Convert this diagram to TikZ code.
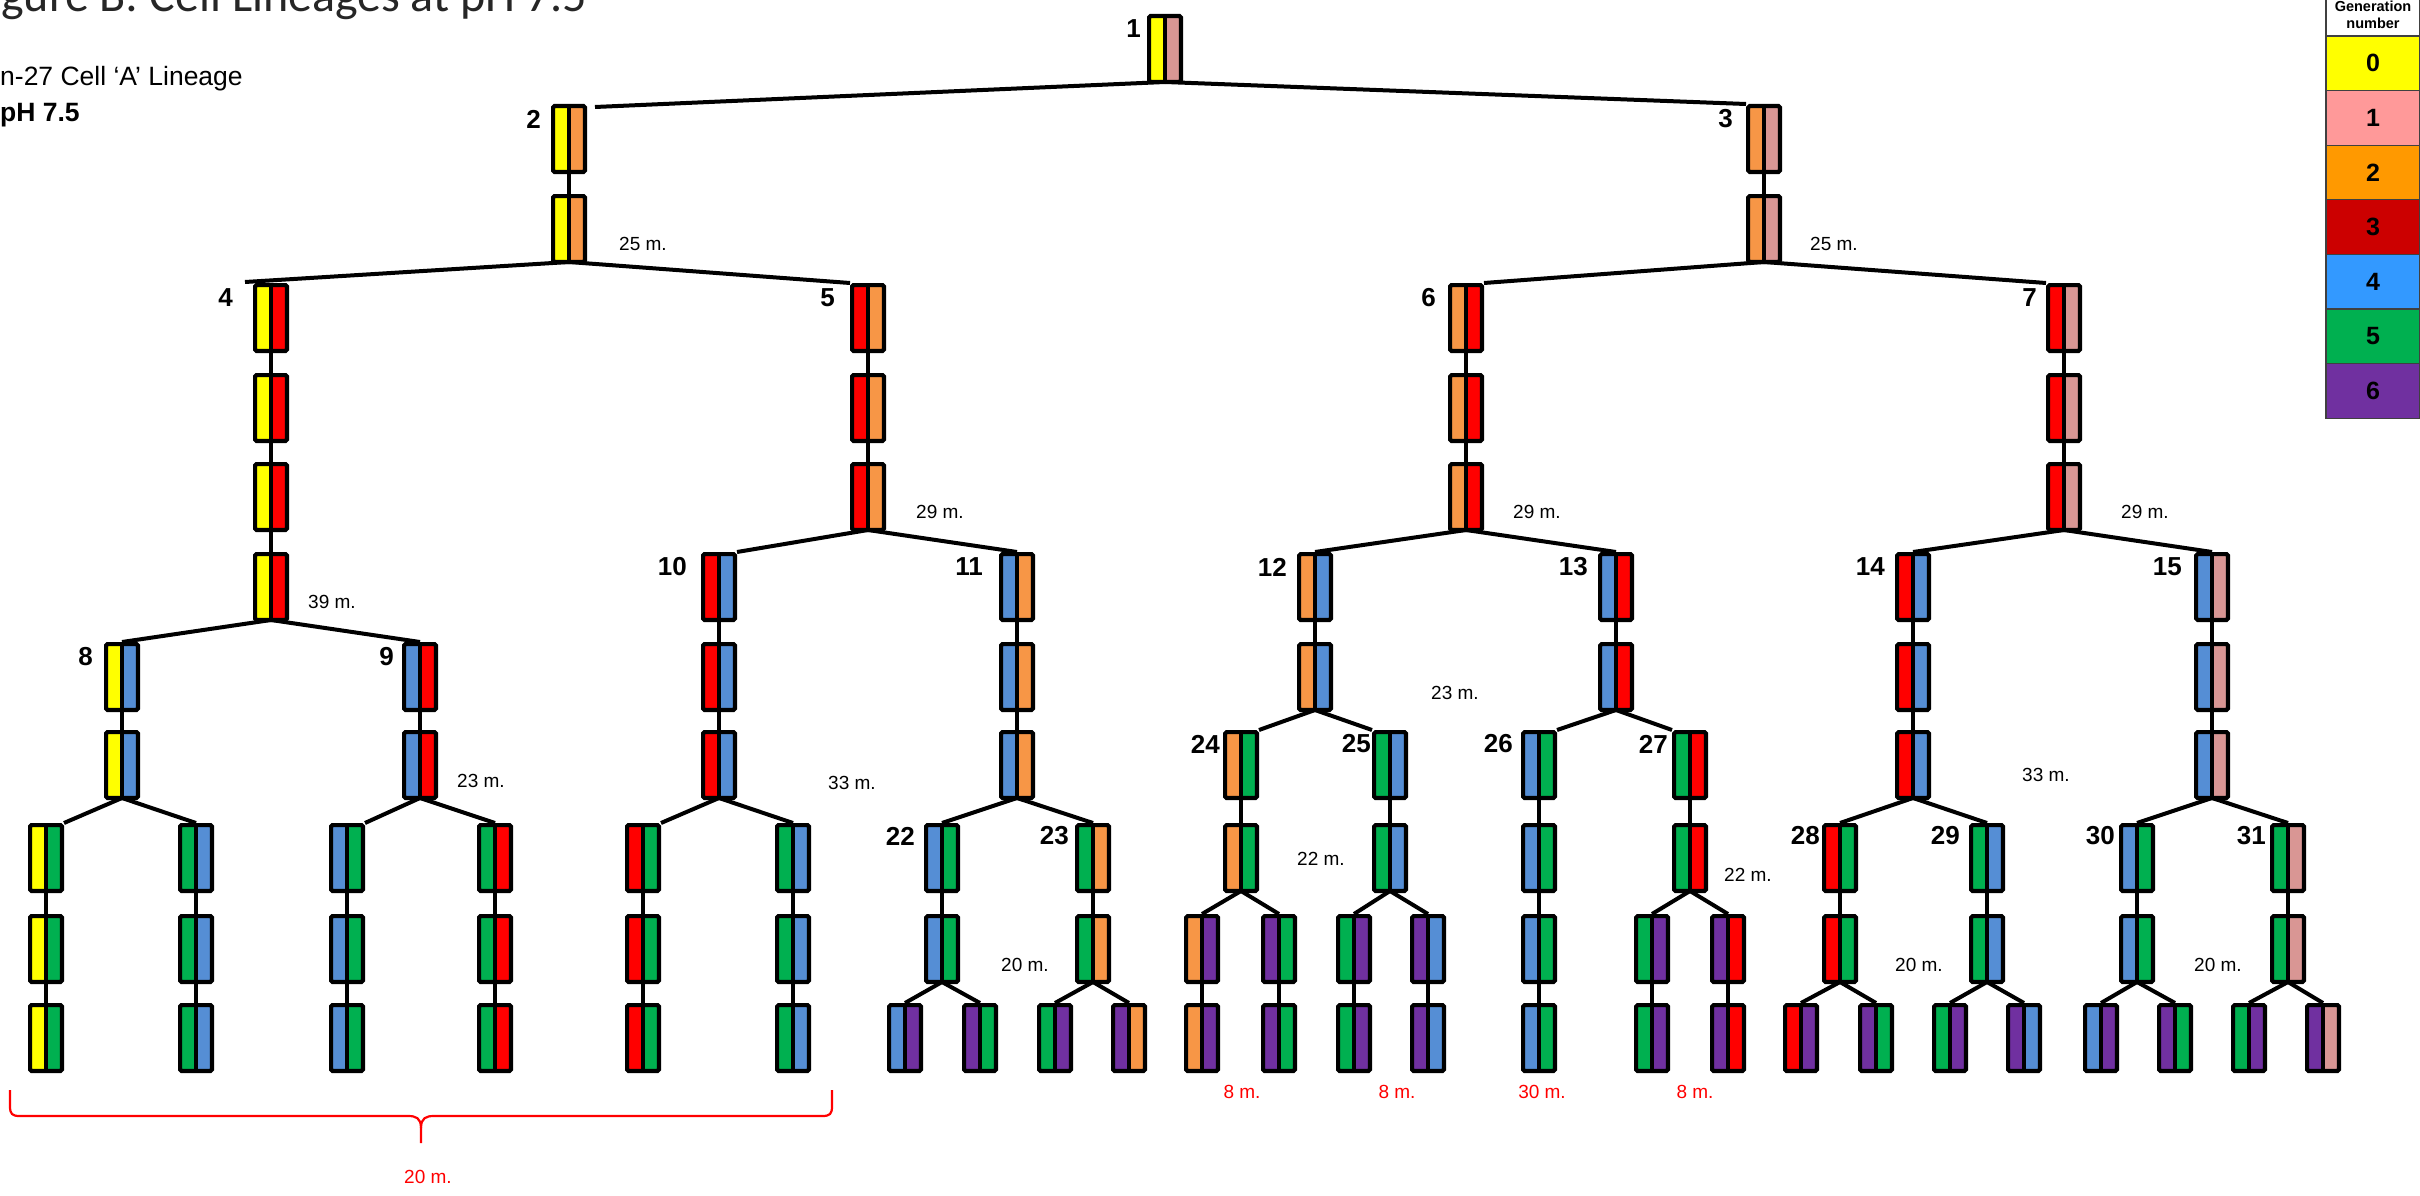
\documentclass[tikz,border=0pt]{standalone}
\usepackage{fontspec}
\setmainfont{Liberation Sans}
\newfontfamily\calibrifont{Carlito}
\usetikzlibrary{calc,backgrounds}
\definecolor{cy}{HTML}{FFFF00}
\definecolor{cp}{HTML}{D99694}
\definecolor{co}{HTML}{F79646}
\definecolor{cr}{HTML}{FF0000}
\definecolor{cb}{HTML}{558ED5}
\definecolor{cg}{HTML}{00B050}
\definecolor{cv}{HTML}{7030A0}
\definecolor{lg0}{HTML}{FFFF00}
\definecolor{lg1}{HTML}{FF9999}
\definecolor{lg2}{HTML}{FF9900}
\definecolor{lg3}{HTML}{CC0000}
\definecolor{lg4}{HTML}{3399FF}
\definecolor{lg5}{HTML}{00B050}
\definecolor{lg6}{HTML}{7030A0}
\definecolor{lgline}{HTML}{404040}
\def\rowy{{14,104,194,283,373,462,552,642,730,823,914,1003}}
\tikzset{
  cell/.style 2 args={rectangle, draw=black, line width=4.2pt, minimum width=31.8pt,
    minimum height=65.8pt, inner sep=0pt, anchor=north, rounded corners=1.5pt,
    path picture={
      \fill[#1] (path picture bounding box.south west) rectangle (path picture bounding box.north);
      \fill[#2] (path picture bounding box.north) rectangle (path picture bounding box.south east);
      \draw[black, line width=4pt] (path picture bounding box.north) -- (path picture bounding box.south);
    }},
  conn/.style={draw=black, line width=4pt},
  lab/.style={font=\fontsize{26}{26}\selectfont\bfseries, inner sep=0pt, anchor=east},
  tm/.style={font=\fontsize{19}{19}\selectfont, inner sep=0pt, anchor=west},
  rtm/.style={font=\fontsize{19}{19}\selectfont, inner sep=0pt, text=red},
  legcell/.style={draw=lgline, line width=1.2pt, minimum width=94pt, minimum height=54.6pt,
    inner sep=0pt, font=\fontsize{25}{25}\selectfont\bfseries},
  legtxt/.style={font=\fontsize{14.5}{14.5}\selectfont\bfseries, inner sep=0pt},
}
\newcommand\cellchain[6]{%
  \foreach \rr in {#3,...,#4}{%
    \pgfmathtruncatemacro\yy{\rowy[\rr]}%
    \node[cell={#5}{#6}] (#1-\rr) at (#2,\yy) {};
  }%
  \ifnum#3<#4\relax
    \pgfmathtruncatemacro\lastm{#4-1}%
    \begin{pgfonlayer}{background}
    \foreach \rr in {#3,...,\lastm}{%
      \pgfmathtruncatemacro\rn{\rr+1}%
      \draw[conn] (#1-\rr.south) -- (#1-\rn.north);
    }%
    \end{pgfonlayer}
  \fi
}
\newcommand\branch[2]{%
  \begin{pgfonlayer}{background}
  \draw[conn] ($(#1.south)+(0,-2)$) -- #2;
  \end{pgfonlayer}
}
\begin{document}
\begin{tikzpicture}[x=1pt,y=-1pt]
\begin{pgfonlayer}{background}
\fill[white] (0,0) rectangle (2420,1196);
\end{pgfonlayer}
\useasboundingbox (0,0) rectangle (2420,1196);

% ---------- cells ----------
\cellchain{c1}{1165}{0}{0}{cy}{cp}
\cellchain{c2}{569}{1}{2}{cy}{co}
\cellchain{c3}{1764}{1}{2}{co}{cp}
\cellchain{c4}{271}{3}{6}{cy}{cr}
\cellchain{c5}{868}{3}{5}{cr}{co}
\cellchain{c6}{1466}{3}{5}{co}{cr}
\cellchain{c7}{2064}{3}{5}{cr}{cp}
\cellchain{c8}{122}{7}{8}{cy}{cb}
\cellchain{c9}{420}{7}{8}{cb}{cr}
\cellchain{c10}{719}{6}{8}{cr}{cb}
\cellchain{c11}{1017}{6}{8}{cb}{co}
\cellchain{c12}{1315}{6}{7}{co}{cb}
\cellchain{c13}{1616}{6}{7}{cb}{cr}
\cellchain{c14}{1913}{6}{8}{cr}{cb}
\cellchain{c15}{2212}{6}{8}{cb}{cp}
\cellchain{c16}{46}{9}{11}{cy}{cg}
\cellchain{c17}{196}{9}{11}{cg}{cb}
\cellchain{c18}{347}{9}{11}{cb}{cg}
\cellchain{c19}{495}{9}{11}{cg}{cr}
\cellchain{c20}{643}{9}{11}{cr}{cg}
\cellchain{c21}{793}{9}{11}{cg}{cb}
\cellchain{c22}{942}{9}{10}{cb}{cg}
\cellchain{c23}{1093}{9}{10}{cg}{co}
\cellchain{c44}{905}{11}{11}{cb}{cv}
\cellchain{c45}{980}{11}{11}{cv}{cg}
\cellchain{c46}{1055}{11}{11}{cg}{cv}
\cellchain{c47}{1129}{11}{11}{cv}{co}
\cellchain{c24}{1241}{8}{9}{co}{cg}
\cellchain{c25}{1390}{8}{9}{cg}{cb}
\cellchain{c48}{1202}{10}{11}{co}{cv}
\cellchain{c49}{1279}{10}{11}{cv}{cg}
\cellchain{c50}{1354}{10}{11}{cg}{cv}
\cellchain{c51}{1428}{10}{11}{cv}{cb}
\cellchain{c26}{1539}{8}{11}{cb}{cg}
\cellchain{c27}{1690}{8}{9}{cg}{cr}
\cellchain{c54}{1652}{10}{11}{cg}{cv}
\cellchain{c55}{1728}{10}{11}{cv}{cr}
\cellchain{c28}{1840}{9}{10}{cr}{cg}
\cellchain{c29}{1987}{9}{10}{cg}{cb}
\cellchain{c30}{2137}{9}{10}{cb}{cg}
\cellchain{c31}{2288}{9}{10}{cg}{cp}
\cellchain{c56}{1801}{11}{11}{cr}{cv}
\cellchain{c57}{1876}{11}{11}{cv}{cg}
\cellchain{c58}{1950}{11}{11}{cg}{cv}
\cellchain{c59}{2024}{11}{11}{cv}{cb}
\cellchain{c60}{2101}{11}{11}{cb}{cv}
\cellchain{c61}{2175}{11}{11}{cv}{cg}
\cellchain{c62}{2249}{11}{11}{cg}{cv}
\cellchain{c63}{2323}{11}{11}{cv}{cp}

% ---------- branches ----------
\branch{c1-0}{($(c2-1.north east)+(8,3)$)}
\branch{c1-0}{(c3-1.north west)}
\branch{c2-2}{($(c4-3.north west)+(-8,-1)$)}
\branch{c2-2}{(c5-3.north west)}
\branch{c3-2}{(c6-3.north east)}
\branch{c3-2}{(c7-3.north west)}
\branch{c4-6}{(c8-7.north)}
\branch{c4-6}{(c9-7.north)}
\branch{c5-5}{(c10-6.north east)}
\branch{c5-5}{(c11-6.north)}
\branch{c6-5}{(c12-6.north)}
\branch{c6-5}{(c13-6.north)}
\branch{c7-5}{(c14-6.north)}
\branch{c7-5}{(c15-6.north)}
\branch{c8-8}{(c16-9.north east)}
\branch{c8-8}{(c17-9.north)}
\branch{c9-8}{(c18-9.north east)}
\branch{c9-8}{(c19-9.north)}
\branch{c10-8}{(c20-9.north east)}
\branch{c10-8}{(c21-9.north)}
\branch{c11-8}{(c22-9.north)}
\branch{c11-8}{(c23-9.north)}
\branch{c12-7}{(c24-8.north east)}
\branch{c12-7}{(c25-8.north west)}
\branch{c13-7}{(c26-8.north east)}
\branch{c13-7}{(c27-8.north west)}
\branch{c14-8}{(c28-9.north)}
\branch{c14-8}{(c29-9.north)}
\branch{c15-8}{(c30-9.north)}
\branch{c15-8}{(c31-9.north)}
\branch{c22-10}{(c44-11.north)}
\branch{c22-10}{(c45-11.north)}
\branch{c23-10}{(c46-11.north)}
\branch{c23-10}{(c47-11.north)}
\branch{c24-9}{(c48-10.north)}
\branch{c24-9}{(c49-10.north)}
\branch{c25-9}{(c50-10.north)}
\branch{c25-9}{(c51-10.north)}
\branch{c27-9}{(c54-10.north)}
\branch{c27-9}{(c55-10.north)}
\branch{c28-10}{(c56-11.north)}
\branch{c28-10}{(c57-11.north)}
\branch{c29-10}{(c58-11.north)}
\branch{c29-10}{(c59-11.north)}
\branch{c30-10}{(c60-11.north)}
\branch{c30-10}{(c61-11.north)}
\branch{c31-10}{(c62-11.north)}
\branch{c31-10}{(c63-11.north)}

% ---------- cell numbers ----------
\node[lab] (l1) at ($(c1-0.north west)+(-6,15)$) {1};
\node[lab] (l2) at ($(c2-1.north west)+(-10,15)$) {2};
\node[lab] (l3) at ($(c3-1.north west)+(-13,15)$) {3};
\node[lab] (l4) at ($(c4-3.north west)+(-20,15)$) {4};
\node[lab] (l5) at ($(c5-3.north west)+(-15,15)$) {5};
\node[lab] (l6) at ($(c6-3.north west)+(-12,15)$) {6};
\node[lab] (l7) at ($(c7-3.north west)+(-9,15)$) {7};
\node[lab] (l8) at ($(c8-7.north west)+(-11,15)$) {8};
\node[lab] (l9) at ($(c9-7.north west)+(-8,15)$) {9};
\node[lab] (l10) at ($(c10-6.north west)+(-14,15)$) {10};
\node[lab] (l11) at ($(c11-6.north west)+(-16,15)$) {11};
\node[lab] (l12) at ($(c12-6.north west)+(-10,15)$) {12};
\node[lab] (l13) at ($(c13-6.north west)+(-10,15)$) {13};
\node[lab] (l14) at ($(c14-6.north west)+(-10,15)$) {14};
\node[lab] (l15) at ($(c15-6.north west)+(-12,15)$) {15};
\node[lab] (l22) at ($(c22-9.north west)+(-9,13)$) {22};
\node[lab] (l23) at ($(c23-9.north west)+(-6,13)$) {23};
\node[lab] (l24) at ($(c24-8.north west)+(-3,14)$) {24};
\node[lab] (l25) at ($(c25-8.north west)+(-1,14)$) {25};
\node[lab] (l26) at ($(c26-8.north west)+(-8,14)$) {26};
\node[lab] (l27) at ($(c27-8.north west)+(-4,14)$) {27};
\node[lab] (l28) at ($(c28-9.north west)+(-2,13)$) {28};
\node[lab] (l29) at ($(c29-9.north west)+(-9,13)$) {29};
\node[lab] (l30) at ($(c30-9.north west)+(-4,13)$) {30};
\node[lab] (l31) at ($(c31-9.north west)+(-4,13)$) {31};

% ---------- durations ----------
\node[tm] (t1) at (619,244) {25 m.};
\node[tm] (t2) at (1810,244) {25 m.};
\node[tm] (t3) at (308,602) {39 m.};
\node[tm] (t4) at (916,512) {29 m.};
\node[tm] (t5) at (1513,512) {29 m.};
\node[tm] (t6) at (2121,512) {29 m.};
\node[tm] (t7) at (457,781) {23 m.};
\node[tm] (t8) at (828,783) {33 m.};
\node[tm] (t9) at (1431,693) {23 m.};
\node[tm] (t10) at (2022,775) {33 m.};
\node[tm] (t11) at (1001,965) {20 m.};
\node[tm] (t12) at (1297,859) {22 m.};
\node[tm] (t13) at (1724,875) {22 m.};
\node[tm] (t14) at (1895,965) {20 m.};
\node[tm] (t15) at (2194,965) {20 m.};

\node[rtm] (r1) at (1242,1092) {8 m.};
\node[rtm] (r2) at (1397,1092) {8 m.};
\node[rtm] (r3) at (1542,1092) {30 m.};
\node[rtm] (r4) at (1695,1092) {8 m.};
\node[rtm] (r5) at (428,1177) {20 m.};

% brace
\draw[red, line width=2.2pt]
  (10,1090) -- (10,1106) .. controls (10,1114) and (12,1116) .. (20,1116) -- (408,1116)
  .. controls (416,1116) and (421,1118) .. (421,1128) -- (421,1143);
\draw[red, line width=2.2pt]
  (832,1090) -- (832,1106) .. controls (832,1114) and (830,1116) .. (822,1116) -- (434,1116)
  .. controls (426,1116) and (421,1118) .. (421,1128);

% ---------- title, subtitle, legend (clipped) ----------
\begin{scope}
\clip (0,0) rectangle (2420,1196);
\node[anchor=base west, inner sep=0pt, font=\calibrifont\fontsize{48}{48}\selectfont, text=black!85] (title) at (1,12) {gure B: Cell Lineages at pH 7.5};
\node[anchor=base west, inner sep=0pt, font=\fontsize{26.5}{26.5}\selectfont] (sub) at (0,86) {n-27 Cell ‘A’ Lineage};
\node[anchor=base west, inner sep=0pt, font=\fontsize{26.5}{26.5}\selectfont\bfseries] (ph) at (0,122) {pH 7.5};
\node[legcell, fill=white, minimum height=70pt] (lgh) at (2373,1) {};
\node[legtxt] (lgt1) at (2373,6) {Generation};
\node[legtxt] (lgt2) at (2373,23) {number};
\foreach \i in {0,...,6}{
  \node[legcell, fill=lg\i] (lg\i) at (2373,{63.3+54.6*\i}) {\i};
}
\end{scope}
\end{tikzpicture}
\end{document}
